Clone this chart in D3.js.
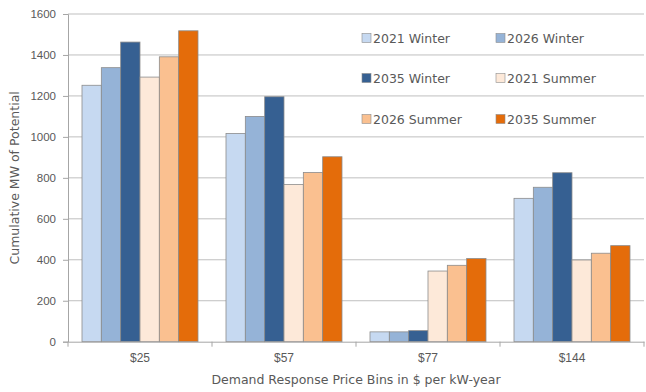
<!DOCTYPE html>
<html>
<head>
<meta charset="utf-8">
<script src="https://cdn.jsdelivr.net/npm/d3@7"></script>
<style>
  html, body { margin: 0; padding: 0; background: #fff; }
  svg { display: block; font-family: "DejaVu Sans", "Open Sans", sans-serif; }
</style>
</head>
<body>
<svg id="chart" width="646" height="392"></svg>
<script>
const categories = ["$25", "$57", "$77", "$144"];
const seriesNames = ["2021 Winter", "2026 Winter", "2035 Winter", "2021 Summer", "2026 Summer", "2035 Summer"];
const seriesColors = ["#c6d9f1", "#95b3d7", "#366092", "#fde9d9", "#fac090", "#e46c0a"];
const s2021Winter = [1252, 1017, 48, 700];
const s2026Winter = [1338, 1100, 48, 754];
const s2035Winter = [1463, 1196, 54, 825];
const s2021Summer = [1292, 768, 345, 399];
const s2026Summer = [1391, 826, 373, 432];
const s2035Summer = [1518, 903, 406, 469];
const yTicks = [0, 200, 400, 600, 800, 1000, 1200, 1400, 1600];
const seriesValues = [s2021Winter, s2026Winter, s2035Winter, s2021Summer, s2026Summer, s2035Summer];

const svg = d3.select("#chart");
const mLeft = 68, mRight = 644, mTop = 14, mBottom = 341.7;
const textColor = "#595959";

const x = d3.scaleBand().domain(categories).range([mLeft, mRight]).paddingInner(0).paddingOuter(0);
const innerPad = 14;
const x1 = d3.scaleBand().domain(seriesNames)
  .range([innerPad, x.bandwidth() - innerPad]).padding(0);
const y = d3.scaleLinear().domain([0, 1600]).range([mBottom, mTop]);

// gridlines
svg.append("g").selectAll("line").data(yTicks.filter(d => d > 0)).join("line")
  .attr("x1", mLeft).attr("x2", mRight)
  .attr("y1", d => y(d)).attr("y2", d => y(d))
  .attr("stroke", "#bfbfbf").attr("stroke-width", 1);

// y axis
const yAxis = d3.axisLeft(y).tickValues(yTicks).tickSize(5).tickPadding(7).tickFormat(d3.format("d"));
const gy = svg.append("g").attr("transform", `translate(${mLeft},0)`).call(yAxis);
gy.select(".domain").attr("stroke", "#a6a6a6");
gy.selectAll(".tick line").attr("stroke", "#a6a6a6");
gy.selectAll("text").attr("fill", textColor).attr("font-size", 11.5);

// bars
const groups = svg.append("g").selectAll("g").data(categories).join("g")
  .attr("transform", d => `translate(${x(d)},0)`);
groups.selectAll("rect")
  .data((c, ci) => seriesNames.map((s, si) => ({ s, si, v: seriesValues[si][ci] })))
  .join("rect")
  .attr("x", d => x1(d.s))
  .attr("width", x1.bandwidth())
  .attr("y", d => y(d.v))
  .attr("height", d => y(0) - y(d.v))
  .attr("fill", d => seriesColors[d.si])
  .attr("stroke", "#8c8c8c")
  .attr("stroke-width", 0.8);

// x axis
const xAxis = d3.axisBottom(x).tickSize(0).tickPadding(12);
const gx = svg.append("g").attr("transform", `translate(0,${mBottom})`).call(xAxis);
gx.select(".domain").attr("stroke", "#a6a6a6");
gx.selectAll("text").attr("fill", textColor).attr("font-size", 12);
// category boundary ticks
const bounds = categories.map(c => x(c)).concat([mRight]);
svg.append("g").selectAll("line").data(bounds).join("line")
  .attr("x1", d => d).attr("x2", d => d)
  .attr("y1", mBottom).attr("y2", mBottom + 5)
  .attr("stroke", "#a6a6a6");

// axis titles
svg.append("text")
  .attr("x", 356).attr("y", 384)
  .attr("text-anchor", "middle").attr("fill", textColor).attr("font-size", 12.5)
  .text("Demand Response Price Bins in $ per kW-year");
svg.append("text")
  .attr("transform", `translate(19,${(mTop + mBottom) / 2}) rotate(-90)`)
  .attr("text-anchor", "middle").attr("fill", textColor).attr("font-size", 12.5)
  .text("Cumulative MW of Potential");

// legend
const legCols = [362, 496], legRows = [38, 78, 119];
const leg = svg.append("g").selectAll("g").data(seriesNames).join("g")
  .attr("transform", (d, i) => `translate(${legCols[i % 2]},${legRows[Math.floor(i / 2)]})`);
leg.append("rect").attr("x", 0).attr("y", -4.5).attr("width", 9).attr("height", 9)
  .attr("fill", (d, i) => seriesColors[i]).attr("stroke", "#8c8c8c").attr("stroke-width", 0.6);
leg.append("text").attr("x", 11).attr("y", 4.5)
  .attr("fill", textColor).attr("font-size", 12.5).text(d => d);
</script>
</body>
</html>
